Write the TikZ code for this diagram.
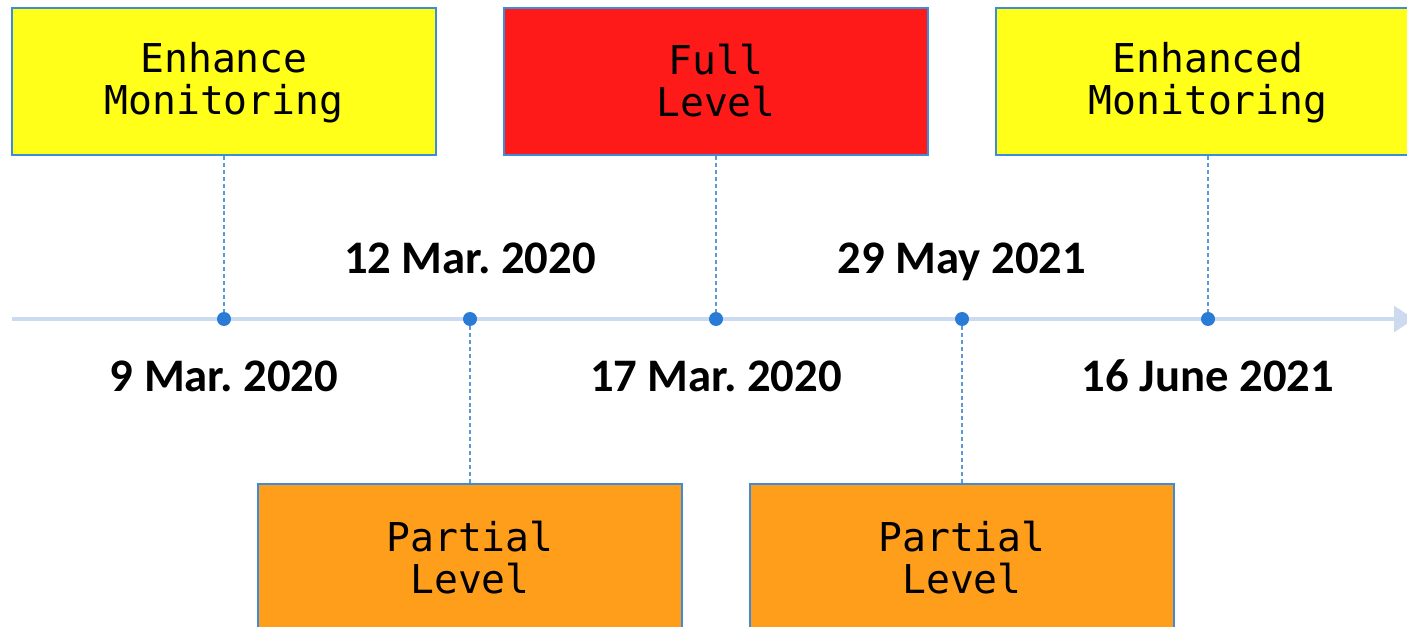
\documentclass[tikz,border=0pt]{standalone}
\usepackage{fontspec}
\usetikzlibrary{arrows.meta}
\newfontfamily\boxfont{DejaVu Sans Mono}
\newfontfamily\datefont{Carlito}
\frenchspacing
\definecolor{boxyellow}{RGB}{255,255,26}
\definecolor{boxred}{RGB}{255,26,26}
\definecolor{boxorange}{RGB}{255,158,27}
\definecolor{boxborder}{RGB}{61,139,220}
\definecolor{axiscol}{RGB}{204,218,240}
\definecolor{dotcol}{RGB}{42,123,214}
\definecolor{dashcol}{RGB}{91,155,213}
\newcommand{\bxstrut}{\rule[-2.25pt]{0pt}{26.25pt}}
\tikzset{
  stagebox/.style={draw=boxborder, line width=1.5pt, minimum width=318pt, minimum height=110.25pt,
    inner sep=0pt, align=center, font=\boxfont\fontsize{29.8pt}{31.5pt}\selectfont},
  tdot/.style={circle, fill=dotcol, inner sep=0pt, minimum size=10.5pt},
  datelbl/.style={anchor=base, inner sep=0pt, font=\datefont\bfseries\fontsize{35pt}{40pt}\selectfont},
  dashlink/.style={draw=dashcol, line width=1.1pt, dash pattern=on 3pt off 2.2pt},
  axisline/.style={draw=axiscol, line width=2.3pt, -{Triangle[length=15pt,width=19.5pt]}}
}
\begin{document}
\begin{tikzpicture}[x=0.75pt,y=-0.75pt]
\useasboundingbox (0,0) rectangle (1407,627);
\clip (0,0) rectangle (1407,627);
% axis
\coordinate (axstart) at (12,319);
\coordinate (axend) at (1414,319);
\draw[axisline] (axstart) -- (axend);
% boxes
\node[stagebox, fill=boxyellow] (b1) at (224,81.5) {\bxstrut Enhance\\\bxstrut Monitoring};
\node[stagebox, fill=boxred] (b3) at (716,81.5) {\bxstrut Full\\\bxstrut Level};
\node[stagebox, fill=boxyellow] (b5) at (1208,81.5) {\bxstrut Enhanced\\\bxstrut Monitoring};
\node[stagebox, fill=boxorange] (b2) at (470,557.5) {\bxstrut Partial\\\bxstrut Level};
\node[stagebox, fill=boxorange] (b4) at (962,557.5) {\bxstrut Partial\\\bxstrut Level};
% dots
\node[tdot] (d1) at (224,319) {};
\node[tdot] (d2) at (470,319) {};
\node[tdot] (d3) at (716,319) {};
\node[tdot] (d4) at (962,319) {};
\node[tdot] (d5) at (1208,319) {};
% dashed links
\draw[dashlink] (b1.south) -- (d1.north);
\draw[dashlink] (b3.south) -- (d3.north);
\draw[dashlink] (b5.south) -- (d5.north);
\draw[dashlink] (d2.south) -- (b2.north);
\draw[dashlink] (d4.south) -- (b4.north);
% date labels
\node[datelbl] (l2) at (470,274) {12 Mar. 2020};
\node[datelbl] (l4) at (962,274) {29 May 2021};
\node[datelbl] (l1) at (224,392) {9 Mar. 2020};
\node[datelbl] (l3) at (716,392) {17 Mar. 2020};
\node[datelbl] (l5) at (1208,392) {16 June 2021};
\end{tikzpicture}
\end{document}
